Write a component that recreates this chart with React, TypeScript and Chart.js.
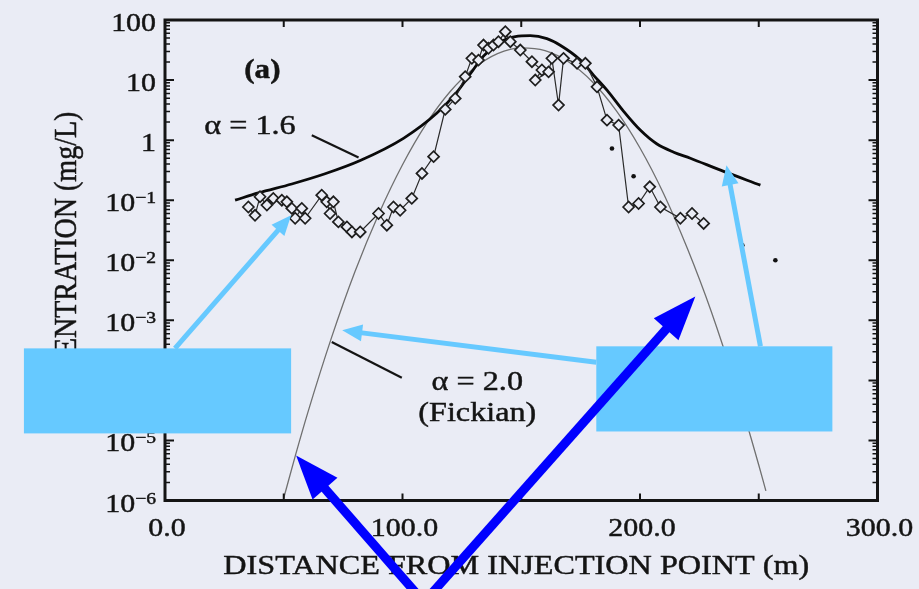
import React, { useEffect, useRef } from "react";
import { Chart, registerables } from "chart.js";

Chart.register(...registerables);

// ---- Measured concentrations (open diamonds) ----
const obsDistance = [
  35.1, 37.9, 40.0, 42.9, 45.6, 49.2, 51.3, 53.4, 54.8, 57.6, 59.0, 66.0, 68.1, 69.5, 70.9,
  73.0, 76.6, 78.7, 82.2, 89.9, 93.4, 96.2, 99.0, 103.9, 108.2, 113.1, 118.0, 122.2, 126.4,
  129.2, 132.0, 134.1, 136.2, 138.3, 140.4, 143.3, 145.4, 149.6, 154.5, 158.7, 155.9, 161.5,
  162.9, 165.7, 167.8, 173.5, 177.0, 181.9, 186.1, 191.0, 195.2, 199.4, 204.1, 208.6, 217.0,
  221.9, 226.8,
];
const obsConc = [
  0.077, 0.056, 0.114, 0.083, 0.107, 0.1, 0.094, 0.073, 0.05, 0.073, 0.05, 0.121, 0.094, 0.06,
  0.094, 0.0435, 0.0359, 0.0296, 0.0296, 0.06, 0.0383, 0.077, 0.068, 0.107, 0.279, 0.531, 3.25,
  4.95, 11.4, 23.0, 21.5, 38.3, 33.8, 38.3, 43.5, 63.8, 43.5, 31.6, 20.2, 14.7, 10.0, 13.7,
  23.0, 3.83, 23.0, 19.0, 19.0, 7.73, 2.15, 1.78, 0.077, 0.088, 0.167, 0.077, 0.05, 0.06, 0.041,
];

// ---- Fractional ADE solution, alpha = 1.6 ----
const fadeDistance = [
  29.5, 39.3, 53.4, 67.4, 82.2, 100.4, 114.5, 122.9, 128.5, 134.1, 142.5, 147.5, 153.8, 160.8,
  166.4, 174.9, 180.5, 186.1, 193.1, 200.1, 207.0, 214.2, 221.2, 233.9, 250.7,
];
const fadeConc = [
  0.1, 0.132, 0.186, 0.275, 0.457, 1.07, 2.82, 6.3, 12.6, 25, 45.7, 53, 55, 49, 38, 21.5, 12,
  6.8, 3.02, 1.47, 0.87, 0.63, 0.5, 0.316, 0.178,
];

// ---- Classical ADE solution, alpha = 2.0 (Fickian) ----
const fickDistance = [
  50, 55, 60, 70, 80, 90, 100, 110, 120, 130, 140, 150, 160, 170, 180, 190, 200, 210, 220, 230,
  240, 250, 253,
];
const fickConc = [
  1.1e-6, 5.8e-6, 2.8e-5, 5.0e-4, 6.5e-3, 0.059, 0.39, 1.87, 6.4, 15.6, 27.5, 34.4, 31, 20, 9.3,
  3.1, 0.74, 0.127, 0.0155, 1.4e-3, 8.7e-5, 3.9e-6, 1.45e-6,
];

// ---- Isolated dots ----
const dotDistance = [188.2, 197.3, 243.1, 257.0];
const dotConc = [0.727, 0.251, 0.0178, 0.01];

// ---- Axis ticks ----
const xTickValues = [0, 50, 100, 150, 200, 250, 300];
const xTickLabels = ["0.0", "", "100.0", "", "200.0", "", "300.0"];
const yDecadeValues = [1e-6, 1e-5, 1e-4, 1e-3, 1e-2, 1e-1, 1, 10, 100];
const yLabelBase = ["10", "10", "10", "10", "10", "10", "1", "10", "100"];
const yLabelExp = ["\u22126", "\u22125", "\u22124", "\u22123", "\u22122", "\u22121", "", "", ""];
const minorMultipliers = [2, 3, 4, 5, 6, 7, 8, 9];

// ---- Annotations (in data units: metres, mg/L) ----
const labels = [
  { text: "(a)", x: 41.0, y: 14.1, bold: true, size: 27 },
  { text: "\u03b1 = 1.6", x: 35.8, y: 1.67, bold: false, size: 28 },
  { text: "\u03b1 = 2.0", x: 131.5, y: 9.3e-5, bold: false, size: 28 },
  { text: "(Fickian)", x: 131.5, y: 2.8e-5, bold: false, size: 28 },
];
const leaderLines = [
  { from: [61.8, 1.21], to: [81.5, 0.515] },
  { from: [70.2, 4.35e-4], to: [99.7, 1.11e-4] },
];
const calloutBoxes = [
  { x0: -59.4, x1: 53.1, y0: 3.41e-4, y1: 1.31e-5 },
  { x0: 181.6, x1: 281.0, y0: 3.69e-4, y1: 1.41e-5 },
];
const lightArrows = [
  { from: [4.2, 3.41e-4], to: [53.1, 0.0562] },
  { from: [181.6, 2.0e-4], to: [74.6, 6.8e-4] },
  { from: [250.7, 3.69e-4], to: [236.4, 0.383] },
];
const darkArrows = [
  { from: [108.5, 2.15e-8], to: [55.2, 5.6e-6] },
  { from: [109.6, 2.15e-8], to: [223.3, 2.5e-3] },
];

const PAGE = "#eaecf5";
const INK = "#141414";
const SERIF = '"Liberation Serif", "Times New Roman", serif';
const STRETCH = 1.15;

const pairs = (xs: number[], ys: number[]) => xs.map((x, i) => ({ x, y: ys[i] }));

function wideText(
  ctx: CanvasRenderingContext2D,
  text: string,
  x: number,
  y: number,
  font: string,
  align: CanvasTextAlign,
  baseline: CanvasTextBaseline
) {
  ctx.save();
  ctx.font = font;
  ctx.textAlign = align;
  ctx.textBaseline = baseline;
  ctx.translate(x, y);
  ctx.scale(STRETCH, 1);
  ctx.lineWidth = 0.45;
  ctx.fillText(text, 0, 0);
  ctx.strokeText(text, 0, 0);
  ctx.restore();
}

function arrow(
  ctx: CanvasRenderingContext2D,
  x0: number,
  y0: number,
  x1: number,
  y1: number,
  shaft: number,
  headLen: number,
  headWidth: number,
  color: string
) {
  const dx = x1 - x0;
  const dy = y1 - y0;
  const len = Math.hypot(dx, dy);
  const ux = dx / len;
  const uy = dy / len;
  const bx = x1 - ux * headLen;
  const by = y1 - uy * headLen;
  ctx.save();
  ctx.strokeStyle = color;
  ctx.fillStyle = color;
  ctx.lineWidth = shaft;
  ctx.lineCap = "butt";
  ctx.beginPath();
  ctx.moveTo(x0, y0);
  ctx.lineTo(bx + ux * 2, by + uy * 2);
  ctx.stroke();
  ctx.beginPath();
  ctx.moveTo(x1, y1);
  ctx.lineTo(bx - uy * headWidth / 2, by + ux * headWidth / 2);
  ctx.lineTo(bx + uy * headWidth / 2, by - ux * headWidth / 2);
  ctx.closePath();
  ctx.fill();
  ctx.restore();
}

const figurePlugin = {
  id: "figureFrame",
  beforeDraw(chart: any) {
    const { ctx, width, height } = chart;
    ctx.save();
    ctx.fillStyle = PAGE;
    ctx.fillRect(0, 0, width, height);
    ctx.restore();
  },
  afterDraw(chart: any) {
    const ctx: CanvasRenderingContext2D = chart.ctx;
    const xs = chart.scales.x;
    const ys = chart.scales.y;
    const { left, right, top, bottom } = chart.chartArea;
    const px = (v: number) => xs.getPixelForValue(v);
    const py = (v: number) => ys.getPixelForValue(v);

    ctx.save();
    ctx.strokeStyle = INK;
    ctx.fillStyle = INK;

    // frame
    ctx.lineWidth = 3;
    ctx.strokeRect(left, top, right - left, bottom - top);

    // x ticks (inward, top and bottom)
    ctx.lineWidth = 2;
    xTickValues.forEach((v) => {
      if (v <= xs.min || v >= xs.max) return;
      const x = px(v);
      ctx.beginPath();
      ctx.moveTo(x, bottom);
      ctx.lineTo(x, bottom - 7);
      ctx.moveTo(x, top);
      ctx.lineTo(x, top + 7);
      ctx.stroke();
    });

    // y ticks (inward, left and right)
    yDecadeValues.forEach((d, i) => {
      const y = py(d);
      ctx.lineWidth = 2;
      ctx.beginPath();
      ctx.moveTo(left, y);
      ctx.lineTo(left + 9, y);
      ctx.moveTo(right, y);
      ctx.lineTo(right - 9, y);
      ctx.stroke();
      if (i < yDecadeValues.length - 1) {
        ctx.lineWidth = 1.5;
        minorMultipliers.forEach((m) => {
          const ym = py(d * m);
          ctx.beginPath();
          ctx.moveTo(left, ym);
          ctx.lineTo(left + 5, ym);
          ctx.moveTo(right, ym);
          ctx.lineTo(right - 5, ym);
          ctx.stroke();
        });
      }
    });

    // x tick labels
    xTickValues.forEach((v, i) => {
      if (!xTickLabels[i]) return;
      wideText(ctx, xTickLabels[i], px(v) + 2, bottom + 35, `26px ${SERIF}`, "center", "alphabetic");
    });

    // y tick labels with superscripted exponents
    const labelRight = left - 9;
    yDecadeValues.forEach((d, i) => {
      const y = py(d);
      const base = yLabelBase[i];
      const exp = yLabelExp[i];
      ctx.font = `26px ${SERIF}`;
      const wb = ctx.measureText(base).width * STRETCH;
      ctx.font = `17px ${SERIF}`;
      const we = exp ? ctx.measureText(exp).width * STRETCH : 0;
      wideText(ctx, base, labelRight - we - wb, y + 11, `26px ${SERIF}`, "left", "alphabetic");
      if (exp) wideText(ctx, exp, labelRight - we, y + 3, `17px ${SERIF}`, "left", "alphabetic");
    });

    // axis titles
    wideText(
      ctx,
      "DISTANCE FROM INJECTION POINT (m)",
      (left + right) / 2 - 5,
      bottom + 73,
      `28px ${SERIF}`,
      "center",
      "alphabetic"
    );
    ctx.save();
    ctx.translate(left - 89, (top + bottom) / 2 + 12);
    ctx.rotate(-Math.PI / 2);
    ctx.scale(1, 1.1);
    ctx.font = `28px ${SERIF}`;
    ctx.textAlign = "center";
    ctx.textBaseline = "alphabetic";
    ctx.lineWidth = 0.45;
    ctx.fillText("CONCENTRATION (mg/L)", 0, 0);
    ctx.strokeText("CONCENTRATION (mg/L)", 0, 0);
    ctx.restore();

    // curve labels and leader lines
    labels.forEach((l) => {
      wideText(
        ctx,
        l.text,
        px(l.x),
        py(l.y),
        `${l.bold ? "bold " : ""}${l.size}px ${SERIF}`,
        "center",
        "middle"
      );
    });
    ctx.lineWidth = 2.2;
    leaderLines.forEach((s) => {
      ctx.beginPath();
      ctx.moveTo(px(s.from[0]), py(s.from[1]));
      ctx.lineTo(px(s.to[0]), py(s.to[1]));
      ctx.stroke();
    });
    ctx.restore();

    // callout boxes and arrows
    ctx.save();
    ctx.fillStyle = "#66c9ff";
    calloutBoxes.forEach((b) => {
      const x0 = px(b.x0);
      const x1 = px(b.x1);
      const y0 = py(b.y0);
      const y1 = py(b.y1);
      ctx.fillRect(x0, y0, x1 - x0, y1 - y0);
    });
    ctx.restore();
    lightArrows.forEach((a) =>
      arrow(ctx, px(a.from[0]), py(a.from[1]), px(a.to[0]), py(a.to[1]), 5, 20, 17, "#66c9ff")
    );
    darkArrows.forEach((a) =>
      arrow(ctx, px(a.from[0]), py(a.from[1]), px(a.to[0]), py(a.to[1]), 9, 44, 33, "#0000ff")
    );
  },
};

export default function App() {
  const canvasRef = useRef<HTMLCanvasElement>(null);

  useEffect(() => {
    const canvas = canvasRef.current;
    if (!canvas) return;
    const hiddenAxis = {
      ticks: { display: false },
      grid: { display: false, drawTicks: false, tickLength: 0 },
      border: { display: false },
      title: { display: false },
    };
    const chart = new Chart(canvas, {
      type: "scatter",
      data: {
        datasets: [
          {
            label: "measured",
            data: pairs(obsDistance, obsConc),
            showLine: true,
            borderColor: "#2a2a2a",
            borderWidth: 1.2,
            pointStyle: "rectRot",
            pointRadius: 5.5,
            pointBorderWidth: 1.7,
            pointBorderColor: "#1e1e1e",
            pointBackgroundColor: PAGE,
            tension: 0,
          },
          {
            label: "alpha = 1.6",
            data: pairs(fadeDistance, fadeConc),
            showLine: true,
            borderColor: "#0a0a0a",
            borderWidth: 2.8,
            pointRadius: 0,
            cubicInterpolationMode: "monotone",
          },
          {
            label: "alpha = 2.0",
            data: pairs(fickDistance, fickConc),
            showLine: true,
            borderColor: "#707070",
            borderWidth: 1.3,
            pointRadius: 0,
            cubicInterpolationMode: "monotone",
          },
          {
            label: "dots",
            data: pairs(dotDistance, dotConc),
            showLine: false,
            pointRadius: 2.3,
            pointBorderWidth: 0,
            pointBackgroundColor: "#111111",
          },
        ],
      },
      options: {
        responsive: true,
        maintainAspectRatio: false,
        animation: false,
        events: [],
        layout: { padding: { left: 165, right: 41.5, top: 20, bottom: 88.5 } },
        plugins: { legend: { display: false }, tooltip: { enabled: false } },
        scales: {
          x: { type: "linear", min: 0, max: 300, ...hiddenAxis },
          y: { type: "logarithmic", min: 1e-6, max: 100, ...hiddenAxis },
        },
      },
      plugins: [figurePlugin],
    });
    return () => chart.destroy();
  }, []);

  return (
    <div style={{ position: "fixed", left: 0, top: 0, width: 919, height: 589, background: PAGE }}>
      <canvas ref={canvasRef} />
    </div>
  );
}
